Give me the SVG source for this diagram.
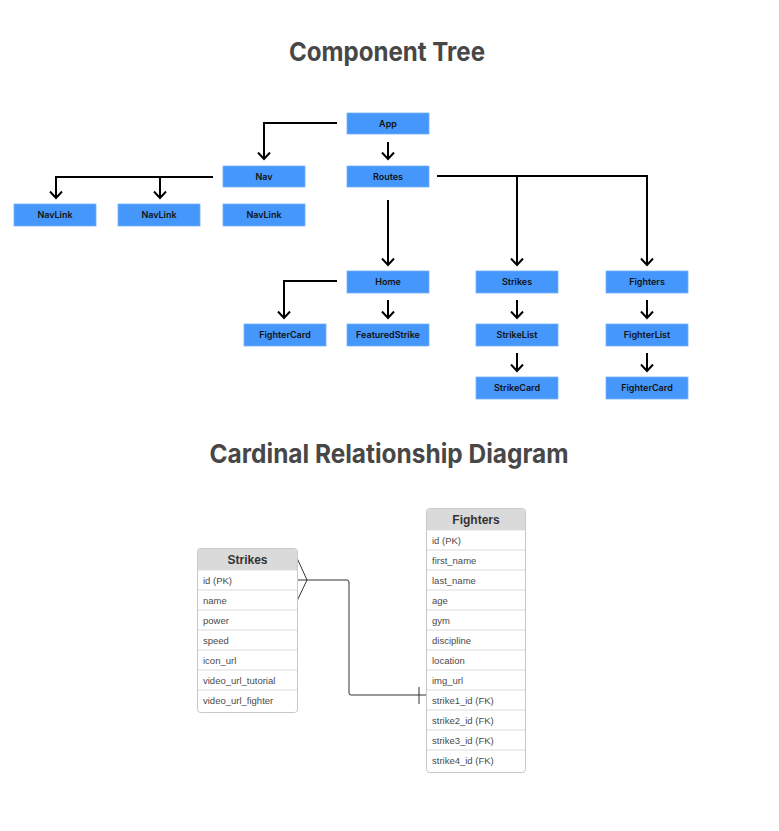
<svg xmlns="http://www.w3.org/2000/svg" width="779" height="831" viewBox="0 0 779 831">
<defs>
<marker id="arr" viewBox="0 0 14 14" refX="7" refY="7" markerWidth="14" markerHeight="14" markerUnits="userSpaceOnUse" orient="auto">
<path d="M0.5,1 L7,7 L0.5,13" fill="none" stroke="#000" stroke-width="2"/>
</marker>
</defs>
<style>
.title{font-family:Inter,"Noto Sans",sans-serif;font-weight:700;font-size:26px;fill:#474747;text-anchor:middle}
.box{fill:#4597fb;stroke:#74b2fb;stroke-width:0.8}
.lbl{font-family:Inter,"Noto Sans",sans-serif;font-weight:600;font-size:9px;fill:#111;text-anchor:middle}
.tc{fill:none;stroke:#000;stroke-width:2}
.tbl{fill:#fff;stroke:#c8c8c8;stroke-width:1}
.hdr{fill:#dadada}
.row{fill:none;stroke:#dcdcdc;stroke-width:1}
.ht{font-family:"Liberation Sans",Arial,sans-serif;font-weight:700;font-size:12px;fill:#333;text-anchor:middle}
.rt{font-family:"Liberation Sans",Arial,sans-serif;font-size:9.5px;fill:#4a4a4a}
.er{fill:none;stroke:#333;stroke-width:1}
</style>
<rect width="779" height="831" fill="#fff"/>
<text class="title" x="387" y="61" textLength="196" lengthAdjust="spacingAndGlyphs">Component Tree</text>
<text class="title" x="389" y="463" textLength="359" lengthAdjust="spacingAndGlyphs">Cardinal Relationship Diagram</text>

<g id="connectors">
<path class="tc" d="M337,123 H264 V159" marker-end="url(#arr)"/>
<path class="tc" d="M388,142 V159" marker-end="url(#arr)"/>
<path class="tc" d="M213,177 H56 V198" marker-end="url(#arr)"/>
<path class="tc" d="M160,177 V198" marker-end="url(#arr)"/>
<path class="tc" d="M388,200 V265" marker-end="url(#arr)"/>
<path class="tc" d="M437,176 H647 V265" marker-end="url(#arr)"/>
<path class="tc" d="M517,176 V265" marker-end="url(#arr)"/>
<path class="tc" d="M337,281 H284 V318" marker-end="url(#arr)"/>
<path class="tc" d="M388,300 V318" marker-end="url(#arr)"/>
<path class="tc" d="M517,300 V318" marker-end="url(#arr)"/>
<path class="tc" d="M517,353 V371" marker-end="url(#arr)"/>
<path class="tc" d="M647,300 V318" marker-end="url(#arr)"/>
<path class="tc" d="M647,353 V371" marker-end="url(#arr)"/>
<path class="er" d="M297,580 H347 Q349,580 349,582 V693 Q349,695 351,695 H426"/>
<path class="er" d="M297,558 L307,580 L297,601"/>
<path class="er" d="M419,687 V704"/>
</g>

<g id="app"><rect class="box" x="347" y="113" width="82" height="21"/><text class="lbl" x="388" y="126.8">App</text></g>
<g id="routes"><rect class="box" x="347" y="166" width="82" height="21"/><text class="lbl" x="388" y="179.8">Routes</text></g>
<g id="nav"><rect class="box" x="223" y="166" width="82" height="21"/><text class="lbl" x="264" y="179.8">Nav</text></g>
<g id="navlink1"><rect class="box" x="14" y="204" width="82" height="22"/><text class="lbl" x="55" y="218.3">NavLink</text></g>
<g id="navlink2"><rect class="box" x="118" y="204" width="82" height="22"/><text class="lbl" x="159" y="218.3">NavLink</text></g>
<g id="navlink3"><rect class="box" x="223" y="204" width="82" height="22"/><text class="lbl" x="264" y="218.3">NavLink</text></g>
<g id="home"><rect class="box" x="347" y="271" width="82" height="22"/><text class="lbl" x="388" y="285.3">Home</text></g>
<g id="fightercard1"><rect class="box" x="244" y="324" width="82" height="22"/><text class="lbl" x="285" y="338.3">FighterCard</text></g>
<g id="featuredstrike"><rect class="box" x="347" y="324" width="82" height="22"/><text class="lbl" x="388" y="338.3">FeaturedStrike</text></g>
<g id="strikes"><rect class="box" x="476" y="271" width="82" height="22"/><text class="lbl" x="517" y="285.3">Strikes</text></g>
<g id="strikelist"><rect class="box" x="476" y="324" width="82" height="22"/><text class="lbl" x="517" y="338.3">StrikeList</text></g>
<g id="strikecard"><rect class="box" x="476" y="377" width="82" height="22"/><text class="lbl" x="517" y="391.3">StrikeCard</text></g>
<g id="fighters"><rect class="box" x="606" y="271" width="82" height="22"/><text class="lbl" x="647" y="285.3">Fighters</text></g>
<g id="fighterlist"><rect class="box" x="606" y="324" width="82" height="22"/><text class="lbl" x="647" y="338.3">FighterList</text></g>
<g id="fightercard2"><rect class="box" x="606" y="377" width="82" height="22"/><text class="lbl" x="647" y="391.3">FighterCard</text></g>

<g id="strikes-table">
<rect class="tbl" x="197.5" y="548.5" width="100" height="164" rx="3"/>
<path class="hdr" d="M200.5,549 H294.5 Q297,549 297,551.5 V570 H198 V551.5 Q198,549 200.5,549 Z"/>
<line class="row" x1="198" y1="570" x2="297" y2="570"/>
<line class="row" x1="198" y1="590" x2="297" y2="590"/>
<line class="row" x1="198" y1="610" x2="297" y2="610"/>
<line class="row" x1="198" y1="630" x2="297" y2="630"/>
<line class="row" x1="198" y1="650" x2="297" y2="650"/>
<line class="row" x1="198" y1="670" x2="297" y2="670"/>
<line class="row" x1="198" y1="690" x2="297" y2="690"/>
<text class="ht" x="247.5" y="564">Strikes</text>
<text class="rt" x="203" y="583.5">id (PK)</text>
<text class="rt" x="203" y="603.5">name</text>
<text class="rt" x="203" y="623.5">power</text>
<text class="rt" x="203" y="643.5">speed</text>
<text class="rt" x="203" y="663.5">icon_url</text>
<text class="rt" x="203" y="683.5">video_url_tutorial</text>
<text class="rt" x="203" y="703.5">video_url_fighter</text>
</g>

<g id="fighters-table">
<rect class="tbl" x="426.5" y="508.5" width="99" height="264" rx="3"/>
<path class="hdr" d="M429.5,509 H522.5 Q525,509 525,511.5 V530 H427 V511.5 Q427,509 429.5,509 Z"/>
<line class="row" x1="427" y1="530" x2="525" y2="530"/>
<line class="row" x1="427" y1="550" x2="525" y2="550"/>
<line class="row" x1="427" y1="570" x2="525" y2="570"/>
<line class="row" x1="427" y1="590" x2="525" y2="590"/>
<line class="row" x1="427" y1="610" x2="525" y2="610"/>
<line class="row" x1="427" y1="630" x2="525" y2="630"/>
<line class="row" x1="427" y1="650" x2="525" y2="650"/>
<line class="row" x1="427" y1="670" x2="525" y2="670"/>
<line class="row" x1="427" y1="690" x2="525" y2="690"/>
<line class="row" x1="427" y1="710" x2="525" y2="710"/>
<line class="row" x1="427" y1="730" x2="525" y2="730"/>
<line class="row" x1="427" y1="750" x2="525" y2="750"/>
<text class="ht" x="476" y="524">Fighters</text>
<text class="rt" x="432" y="543.5">id (PK)</text>
<text class="rt" x="432" y="563.5">first_name</text>
<text class="rt" x="432" y="583.5">last_name</text>
<text class="rt" x="432" y="603.5">age</text>
<text class="rt" x="432" y="623.5">gym</text>
<text class="rt" x="432" y="643.5">discipline</text>
<text class="rt" x="432" y="663.5">location</text>
<text class="rt" x="432" y="683.5">img_url</text>
<text class="rt" x="432" y="703.5">strike1_id (FK)</text>
<text class="rt" x="432" y="723.5">strike2_id (FK)</text>
<text class="rt" x="432" y="743.5">strike3_id (FK)</text>
<text class="rt" x="432" y="763.5">strike4_id (FK)</text>
</g>
</svg>
